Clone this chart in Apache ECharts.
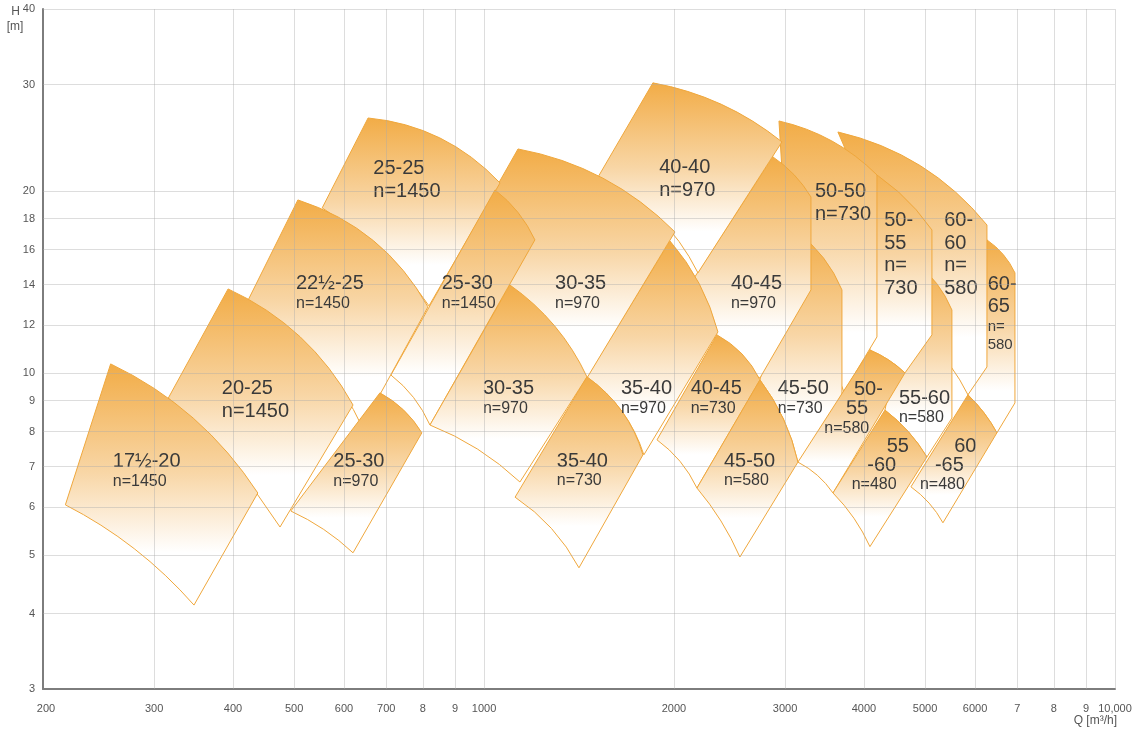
<!DOCTYPE html>
<html>
<head>
<meta charset="utf-8">
<title>Pump selection chart</title>
<script src="https://cdn.jsdelivr.net/npm/echarts@6/dist/echarts.min.js"></script>
<style>
  html, body { margin: 0; padding: 0; background: #fff; }
  #main { width: 1136px; height: 729px; }
</style>
</head>
<body>
<div id="main"></div>
<script>
// axis grid values and their printed labels
const qTicks = [200, 300, 400, 500, 600, 700, 800, 900, 1000, 2000, 3000, 4000, 5000, 6000, 7000, 8000, 9000, 10000];
const qTickText = ['200', '300', '400', '500', '600', '700', '8', '9', '1000', '2000', '3000', '4000', '5000', '6000', '7', '8', '9', '10,000'];
const hTicks = [3, 4, 5, 6, 7, 8, 9, 10, 12, 14, 16, 18, 20, 30, 40];

// pump ranges, listed back to front. points are [Q m3/h, H m]
// top curve: first corner, middle of curve, last corner
const tileTop = [
  [[6267, 16.6], [6651, 15.7], [6941, 14.64]],   // 60-65 n=580
  [[3638, 25.04], [4915, 22.02], [6267, 17.57]], // 60-60 n=580
  [[4819, 15.26], [5216, 14.06], [5515, 12.71]], // 55-60 n=580
  [[3900, 22.25], [4537, 19.93], [5127, 17.24]], // 50-55 n=730
  [[2934, 26.11], [3558, 24.2], [4195, 21.26]],  // 50-50 n=730
  [[3133, 17.11], [3451, 15.5], [3692, 13.72]],  // 45-50 n=730
  [[2870, 22.77], [3101, 21.27], [3297, 19.55]], // 40-45 n=970
  [[1852, 30.19], [2376, 27.83], [2966, 24.11]], // 40-40 n=970
  [[1971, 16.53], [2193, 14.05], [2348, 11.69]], // 35-40 n=970
  [[1132, 23.47], [1543, 21.0], [2007, 17.11]],  // 30-35 n=970 (upper)
  [[655, 26.41], [851, 24.48], [1060, 20.62]],   // 25-25 n=1450
  [[1041, 20.08], [1132, 18.43], [1204, 16.6]],  // 25-30 n=1450
  [[507, 19.33], [668, 16.55], [815, 12.86]],    // 22½-25 n=1450
  [[393, 13.77], [511, 11.48], [620, 8.85]],     // 20-25 n=1450
  [[256, 10.35], [346, 8.42], [438, 6.33]],      // 17½-20 n=1450
  [[1099, 13.98], [1294, 11.96], [1456, 9.85]],  // 30-35 n=970 (lower)
  [[684, 9.27], [746, 8.68], [797, 7.96]],       // 25-30 n=970
  [[1456, 9.85], [1654, 8.64], [1786, 7.32]],    // 35-40 n=730
  [[2340, 11.56], [2564, 10.75], [2737, 9.74]],  // 40-45 n=730
  [[2737, 9.74], [2982, 8.39], [3144, 7.12]],    // 45-50 n=580
  [[4089, 10.91], [4376, 10.51], [4646, 10.0]],  // 50-55 n=580
  [[4319, 8.68], [4701, 8.0], [5034, 7.26]],     // 55-60 n=480
  [[5847, 9.2], [6200, 8.59], [6499, 7.96]]      // 60-65 n=480
];
// lower end of the vertical max-flow cut, if the range has one
const tileCut = [
  [6941, 8.92], [6267, 10.23], [5515, 8.42], [5127, 11.56], [4195, 11.47], [3692, 8.68], [3297, 13.72],
  null, null, null, null, null, null, null, null, null, null, null, null, null, null, null, null
];
// bottom curve: left corner, middle of curve, bottom corner
const tileBottom = [
  [[5847, 9.2], [6200, 8.59], [6499, 7.96]],
  [[5053, 11.34], [5483, 10.28], [5847, 9.2]],
  [[4319, 8.68], [4701, 8.0], [5034, 7.26]],
  [[4089, 10.91], [4376, 10.51], [4646, 10.0]],
  [[3054, 13.21], [3435, 11.21], [3719, 9.3]],
  [[2737, 9.74], [2982, 8.39], [3144, 7.12]],
  [[2082, 13.61], [2400, 10.91], [2737, 9.81]],
  [[1510, 20.94], [1872, 18.23], [2183, 14.64]],
  [[1456, 9.85], [1654, 8.64], [1792, 7.32]],
  [[919, 15.98], [1190, 12.89], [1456, 9.81]],
  [[554, 18.75], [697, 15.62], [818, 12.91]],
  [[712, 9.92], [773, 9.11], [821, 8.2]],
  [[423, 13.21], [545, 10.51], [641, 8.14]],
  [[316, 9.09], [394, 7.22], [475, 5.56]],
  [[217, 6.05], [279, 5.12], [347, 4.13]],
  [[821, 8.2], [977, 7.48], [1140, 6.6]],
  [[494, 5.91], [557, 5.51], [620, 5.04]],
  [[1120, 6.23], [1279, 5.53], [1414, 4.76]],
  [[1880, 7.75], [2045, 7.14], [2175, 6.45]],
  [[2175, 6.45], [2374, 5.69], [2544, 4.96]],
  [[3144, 7.12], [3376, 6.77], [3573, 6.33]],
  [[3573, 6.33], [3857, 5.75], [4089, 5.16]],
  [[4749, 6.48], [5075, 6.09], [5337, 5.65]]
];

// label text for each range and where its first line starts
const labelLines = [
  ['60-', '65', 'n=', '580'],
  ['60-', '60', 'n=', '580'],
  ['55-60', 'n=580'],
  ['50-', '55', 'n=', '730'],
  ['50-50', 'n=730'],
  ['45-50', 'n=730'],
  ['40-45', 'n=970'],
  ['40-40', 'n=970'],
  ['35-40', 'n=970'],
  ['30-35', 'n=970'],
  ['25-25', 'n=1450'],
  ['25-30', 'n=1450'],
  ['22½-25', 'n=1450'],
  ['20-25', 'n=1450'],
  ['17½-20', 'n=1450'],
  ['30-35', 'n=970'],
  ['25-30', 'n=970'],
  ['35-40', 'n=730'],
  ['40-45', 'n=730'],
  ['45-50', 'n=580'],
  ['50-', '55', 'n=580'],
  ['55', '-60', 'n=480'],
  ['60', '-65', 'n=480']
];
const labelAt = [
  [6283, 13.98], [5362, 17.84], [4545, 9.08], [4308, 17.84], [3345, 19.95], [2920, 9.41],
  [2462, 14.07], [1895, 21.89], [1648, 9.41], [1296, 14.04], [667.5, 21.81], [857, 14.07],
  [503.5, 14.07], [384, 9.43], [258, 7.14], [996, 9.41], [577, 7.13], [1304, 7.15],
  [2126, 9.41], [2400, 7.15], [3857, 9.4], [4346, 7.57], [5562, 7.57]
];

// label line layout: [font size, dx, dy] in pixels
const SMALL2 = [[20, 0, 0], [16, 0, 20]];
const BIG2 = [[20, 0, 0], [20, 0, 23]];
const STACK4 = [[20, 0, 0], [20, 0, 22.5], [20, 0, 45], [20, 0, 67.5]];
const labelLayout = [
  [[20, 0, 0], [20, 0, 22], [15, 0, 42], [15, 0, 60]],
  STACK4, [[20, 0, 0], [16, 0, 19]], STACK4, BIG2, SMALL2,
  SMALL2, BIG2, SMALL2, SMALL2, BIG2, SMALL2,
  SMALL2, BIG2, SMALL2, SMALL2, SMALL2, SMALL2,
  SMALL2, SMALL2,
  [[20, 0, 0], [20, -8, 19], [16, -29.7, 39]],
  [[20, 0, 0], [20, -19.4, 19], [16, -35, 39]],
  [[20, 0, 0], [20, -19.3, 19], [16, -34.3, 39]]
];

const FONT = '"Liberation Sans", Arial, sans-serif';

// control point so the quadratic curve runs through m halfway
function bend(a, m, b) {
  return [2 * m[0] - (a[0] + b[0]) / 2, 2 * m[1] - (a[1] + b[1]) / 2];
}
function xy(p) {
  return p[0].toFixed(2) + ' ' + p[1].toFixed(2);
}

function renderTile(params, api) {
  const i = api.value(2);
  const top = tileTop[i].map(p => api.coord(p));
  const bot = tileBottom[i].map(p => api.coord(p));
  let d = 'M' + xy(bot[0]) + ' L' + xy(top[0]) +
    ' Q' + xy(bend(top[0], top[1], top[2])) + ' ' + xy(top[2]);
  if (tileCut[i]) {
    d += ' L' + xy(api.coord(tileCut[i]));
  }
  d += ' L' + xy(bot[2]) + ' Q' + xy(bend(bot[0], bot[1], bot[2])) + ' ' + xy(bot[0]) + ' Z';
  return {
    type: 'path',
    shape: { pathData: d },
    style: {
      fill: new echarts.graphic.LinearGradient(0, 0, 0, 1, [
        { offset: 0, color: '#F2AC46' },
        { offset: 0.45, color: '#F8D6A6' },
        { offset: 0.78, color: '#FFFFFF' },
        { offset: 1, color: '#FFFFFF' }
      ]),
      stroke: '#EFA73C',
      lineWidth: 1
    }
  };
}

function renderLabel(params, api) {
  const i = api.value(2);
  const a = api.coord(labelAt[i]);
  return {
    type: 'group',
    children: labelLines[i].map((s, k) => {
      const [size, dx, dy] = labelLayout[i][k];
      return {
        type: 'text',
        x: a[0] + dx,
        y: a[1] + dy,
        style: {
          text: s,
          fill: '#3a3a3a',
          fontSize: size,
          fontFamily: FONT,
          align: 'left',
          verticalAlign: 'middle'
        }
      };
    })
  };
}

// grid lines on the axis itself stay invisible so the dark axis shows
const hiddenLine = { color: 'rgba(0,0,0,0)' };
const gridLineStyle = { color: 'rgba(170,170,170,0.4)', width: 1, type: 'solid' };
const gridLines = [];
qTicks.forEach((v, k) => {
  const item = { xAxis: v, name: qTickText[k] };
  if (k === 0) {
    item.lineStyle = hiddenLine;
    item.label = { offset: [3, 0] };
  }
  gridLines.push(item);
});
hTicks.forEach((v, k) => {
  const item = { yAxis: v, name: String(v), label: { distance: 8 } };
  if (k === 0) item.lineStyle = hiddenLine;
  gridLines.push(item);
});

const axisBase = {
  type: 'log',
  logBase: 10,
  axisLine: { show: true, lineStyle: { color: '#7d7d7d', width: 2 } },
  axisTick: { show: false },
  axisLabel: { show: false },
  splitLine: { show: false }
};

const chart = echarts.init(document.getElementById('main'));
chart.setOption({
  animation: false,
  grid: { left: 43, right: 21, top: 9, bottom: 40 },
  xAxis: Object.assign({}, axisBase, { min: 200, max: 10000 }),
  yAxis: Object.assign({}, axisBase, { min: 3, max: 40 }),
  graphic: [
    { type: 'text', x: 15.5, y: 12, style: { text: 'H', fill: '#555', fontSize: 12, fontFamily: FONT, align: 'center', verticalAlign: 'middle' } },
    { type: 'text', x: 15, y: 27, style: { text: '[m]', fill: '#555', fontSize: 12, fontFamily: FONT, align: 'center', verticalAlign: 'middle' } },
    { type: 'text', x: 1117, y: 721, style: { text: 'Q [m³/h]', fill: '#555', fontSize: 12, fontFamily: FONT, align: 'right', verticalAlign: 'middle' } }
  ],
  series: [
    {
      type: 'custom',
      name: 'ranges',
      z: 2,
      silent: true,
      renderItem: renderTile,
      encode: { x: 0, y: 1 },
      data: tileTop.map((t, i) => [t[0][0], t[0][1], i])
    },
    {
      type: 'line',
      name: 'grid',
      z: 3,
      silent: true,
      data: [],
      markLine: {
        silent: true,
        symbol: ['none', 'none'],
        lineStyle: gridLineStyle,
        emphasis: { disabled: true },
        label: { show: true, position: 'start', distance: 14, formatter: '{b}', color: '#555', fontSize: 11, fontFamily: FONT },
        data: gridLines
      }
    },
    {
      type: 'custom',
      name: 'labels',
      z: 4,
      silent: true,
      renderItem: renderLabel,
      encode: { x: 0, y: 1 },
      data: labelAt.map((p, i) => [p[0], p[1], i])
    }
  ]
});
</script>
</body>
</html>
